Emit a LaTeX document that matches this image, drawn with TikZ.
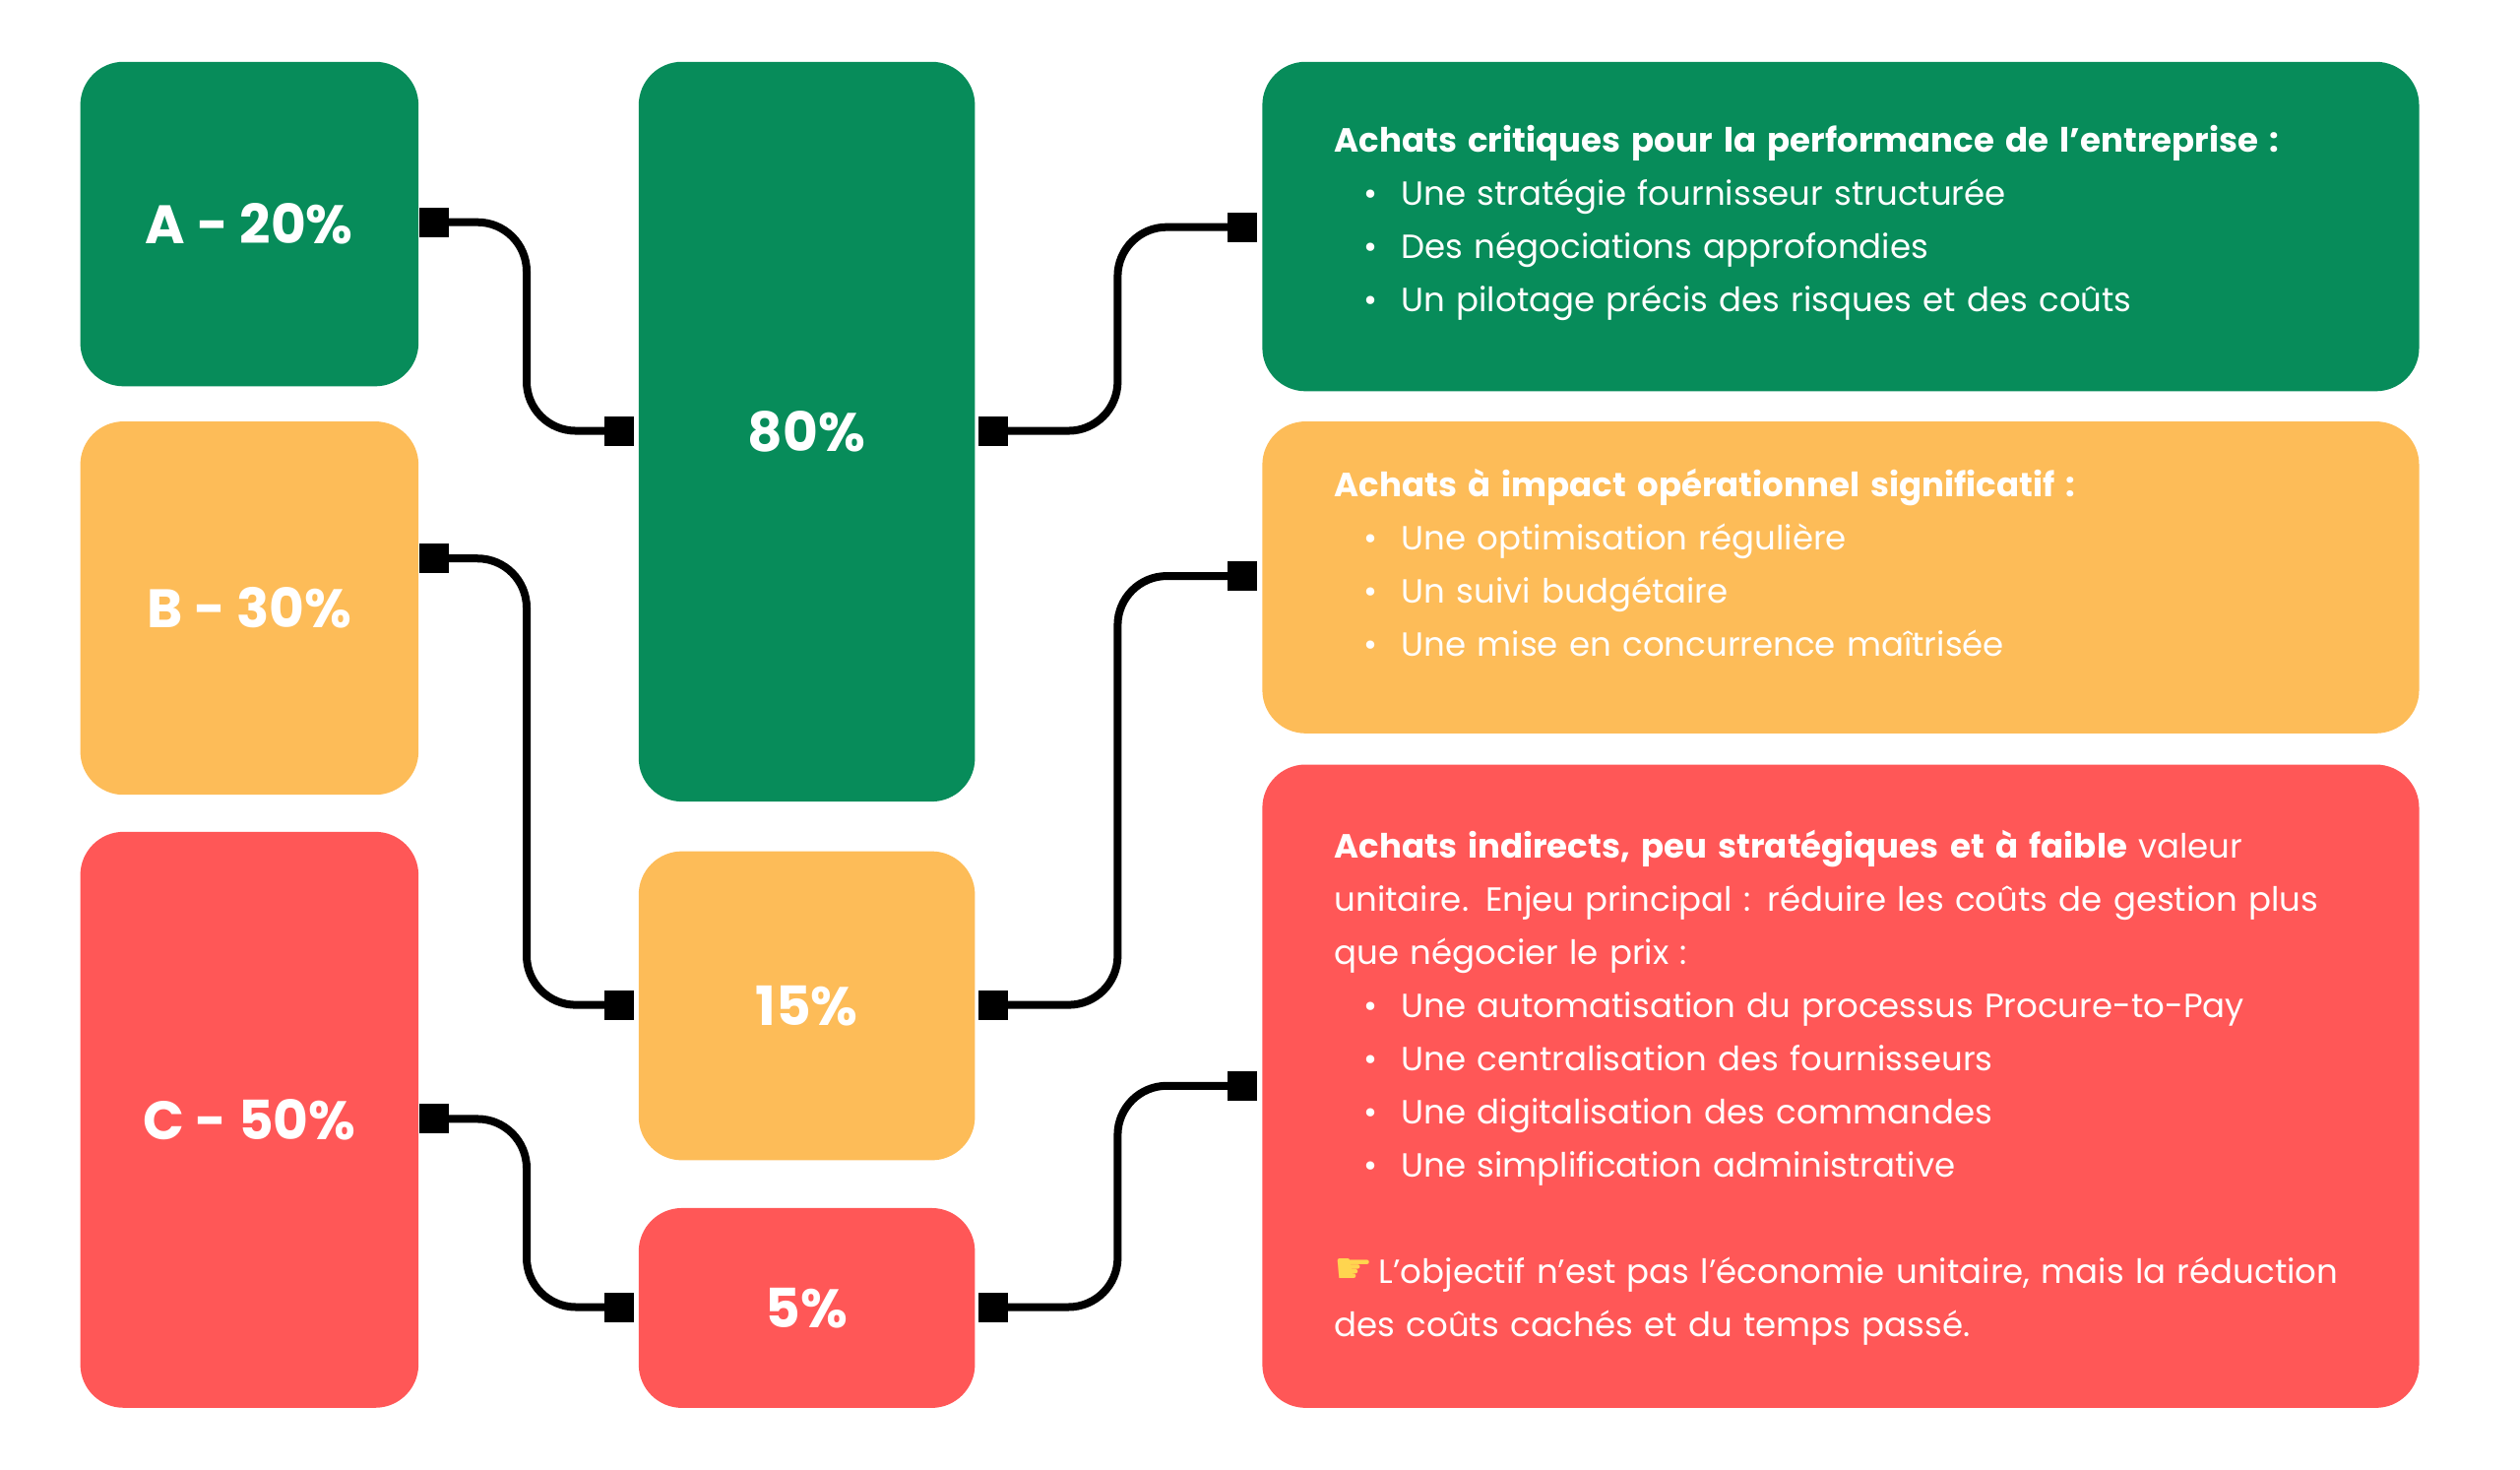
\documentclass[tikz,border=0pt]{standalone}
\usepackage{fontspec}
\setmainfont{Poppins}
\newfontfamily\symfont{DejaVu Sans}
\usetikzlibrary{calc,positioning,backgrounds}
\definecolor{abcgreen}{HTML}{078C5A}
\definecolor{abcyellow}{HTML}{FDBC58}
\definecolor{abcred}{HTML}{FF5757}
\definecolor{handyellow}{HTML}{FFD54F}
\newcommand{\bul}[1]{\makebox[34pt][l]{\hspace{15pt}\textbullet}#1}
\tikzset{
  box/.style={fill=#1, rounded corners=22pt, anchor=north west, inner sep=0pt},
  big/.style={text=white, font=\fontsize{27.5}{32}\selectfont\bfseries},
  info/.style={text=white, anchor=north west, align=left, text width=580pt,
    font=\fontsize{17}{27}\selectfont, inner sep=0pt},
  sq/.style={fill=black, minimum size=15pt, inner sep=0pt},
  link/.style={line width=4pt, rounded corners=25pt}
}
\begin{document}
\begin{tikzpicture}[x=0.495pt,y=-0.495pt]
\useasboundingbox (0,0) rectangle (2586,1508);
% classes
\node[box=abcgreen, minimum width=171.8pt, minimum height=164.8pt] (A) at (82,63) {};
\node[box=abcyellow, minimum width=171.8pt, minimum height=189.6pt] (B) at (82,432) {};
\node[box=abcred, minimum width=171.8pt, minimum height=292.5pt] (C) at (82,853) {};
\node[big] at (A) {A - 20\%};
\node[big] at (B) {B - 30\%};
\node[big] at (C) {C - 50\%};
% parts
\node[box=abcgreen, minimum width=170.8pt, minimum height=375.7pt] (pA) at (655,63) {};
\node[box=abcyellow, minimum width=170.8pt, minimum height=156.9pt] (pB) at (655,873) {};
\node[box=abcred, minimum width=170.8pt, minimum height=101.5pt] (pC) at (655,1239) {};
\node[big] at (pA) {80\%};
\node[big] at (pB) {15\%};
\node[big] at (pC) {5\%};
% descriptions
\node[box=abcgreen, minimum width=587.6pt, minimum height=167.3pt] (dA) at (1295,63) {};
\node[box=abcyellow, minimum width=587.6pt, minimum height=158.4pt] (dB) at (1295,432) {};
\node[box=abcred, minimum width=587.6pt, minimum height=326.7pt] (dC) at (1295,784) {};
\node[info] (tA) at (1369,128) {\textbf{Achats critiques pour la performance de l’entreprise :}\\
  \bul{Une stratégie fournisseur structurée}\\
  \bul{Des négociations approfondies}\\
  \bul{Un pilotage précis des risques et des coûts}};
\node[info] (tB) at (1369,481) {\textbf{Achats à impact opérationnel significatif :}\\
  \bul{Une optimisation régulière}\\
  \bul{Un suivi budgétaire}\\
  \bul{Une mise en concurrence maîtrisée}};
\node[info] (tC) at (1369,851) {\textbf{Achats indirects, peu stratégiques et à faible} valeur\\
  unitaire. Enjeu principal : réduire les coûts de gestion plus\\
  que négocier le prix :\\
  \bul{Une automatisation du processus Procure-to-Pay}\\
  \bul{Une centralisation des fournisseurs}\\
  \bul{Une digitalisation des commandes}\\
  \bul{Une simplification administrative}\\[27pt]
  {\symfont\fontsize{22}{27}\selectfont\color{handyellow}☛}\,L’objectif n’est pas l’économie unitaire, mais la réduction\\
  des coûts cachés et du temps passé.};
% connector ends
\node[sq] (sA) at ($(A.north east)+(16,165)$) {};
\node[sq] (sB) at ($(B.north east)+(16,141)$) {};
\node[sq] (sC) at ($(C.north east)+(16,295)$) {};
\node[sq] (spA1) at ($(pA.north west)+(-20,379)$) {};
\node[sq] (spB1) at ($(pB.north west)+(-20,158)$) {};
\node[sq] (spC1) at ($(pC.north west)+(-20,102)$) {};
\node[sq] (spA2) at ($(pA.north east)+(18,379)$) {};
\node[sq] (spB2) at ($(pB.north east)+(18,158)$) {};
\node[sq] (spC2) at ($(pC.north east)+(18,102)$) {};
\node[sq] (sdA) at ($(dA.north west)+(-20,170)$) {};
\node[sq] (sdB) at ($(dB.north west)+(-20,159)$) {};
\node[sq] (sdC) at ($(dC.north west)+(-20,330)$) {};
\begin{scope}[on background layer]
\foreach \a/\b in {sA/spA1, sB/spB1, sC/spC1, spA2/sdA, spB2/sdB, spC2/sdC}
  \draw[link] (\a.center) -| ($(\a)!0.5!(\b)$) |- (\b.center);
\end{scope}
\end{tikzpicture}
\end{document}
